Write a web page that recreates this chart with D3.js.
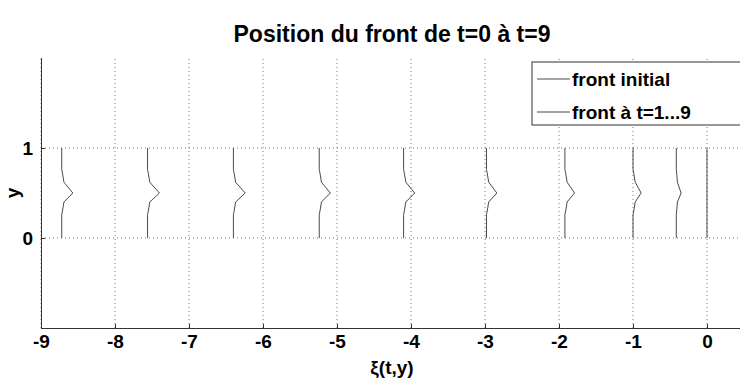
<!DOCTYPE html>
<html><head><meta charset="utf-8">
<script src="https://cdn.jsdelivr.net/npm/d3@7/dist/d3.min.js"></script>
<style>
body{margin:0;background:#fff;}
text{font-family:"Liberation Sans",Arial,Helvetica,sans-serif;font-weight:bold;fill:#000;}
</style></head><body>
<svg id="c" width="740" height="385"></svg>
<script>
// ---- data ----
const title = "Position du front de t=0 à t=9";
const xLabel = "ξ(t,y)";
const yLabel = "y";
const xTicks = [-9,-8,-7,-6,-5,-4,-3,-2,-1,0];
const yTicks = [0,1];
const legendLabels = ["front initial","front à t=1...9"];
// y sample positions along each front
const ySamples = [0,0.26,0.3,0.4,0.5,0.62,0.72,0.76,1];
// initial front (t=0)
const front0 = [0,0,0,0,0,0,0,0,0];
// fronts t=1..9 (xi at each y sample)
const front1 = [-0.415,-0.415,-0.41,-0.40,-0.35,-0.40,-0.41,-0.415,-0.415];
const front2 = [-1.00,-1.00,-0.99,-0.97,-0.89,-0.97,-0.99,-1.00,-1.00];
const front3 = [-1.92,-1.92,-1.91,-1.89,-1.79,-1.89,-1.91,-1.92,-1.92];
const front4 = [-2.98,-2.98,-2.97,-2.95,-2.84,-2.95,-2.97,-2.98,-2.98];
const front5 = [-4.10,-4.10,-4.09,-4.07,-3.95,-4.07,-4.09,-4.10,-4.10];
const front6 = [-5.24,-5.24,-5.23,-5.21,-5.09,-5.21,-5.23,-5.24,-5.24];
const front7 = [-6.40,-6.40,-6.39,-6.37,-6.24,-6.37,-6.39,-6.40,-6.40];
const front8 = [-7.56,-7.56,-7.55,-7.53,-7.40,-7.53,-7.55,-7.56,-7.56];
const front9 = [-8.72,-8.72,-8.71,-8.69,-8.57,-8.69,-8.71,-8.72,-8.72];
const laterFronts = [front1,front2,front3,front4,front5,front6,front7,front8,front9];

// ---- layout ----
const svg = d3.select("#c");
const x = d3.scaleLinear().domain([-9,0.5]).range([41,744]);
const y = d3.scaleLinear().domain([-1,2]).range([328,58]);
const lineColor = "#4a4a4a";

// grid
svg.append("g").selectAll("line").data(xTicks).join("line")
  .attr("x1",d=>x(d)).attr("x2",d=>x(d)).attr("y1",y(-1)).attr("y2",y(2))
  .attr("stroke","#777").attr("stroke-width",1).attr("stroke-dasharray","1,3");
svg.append("g").selectAll("line").data(yTicks).join("line")
  .attr("x1",x(-9)).attr("x2",x(0.5)).attr("y1",d=>y(d)).attr("y2",d=>y(d))
  .attr("stroke","#777").attr("stroke-width",1).attr("stroke-dasharray","1,3");

// axes
const fmt = d => String(d);
const xa = svg.append("g").attr("transform",`translate(0,${y(-1)})`)
  .call(d3.axisBottom(x).tickValues(xTicks).tickSize(-4).tickPadding(7).tickFormat(fmt));
const ya = svg.append("g").attr("transform",`translate(${x(-9)},0)`)
  .call(d3.axisLeft(y).tickValues(yTicks).tickSize(-4).tickPadding(8).tickFormat(fmt));
[xa,ya].forEach(a=>{
  a.select(".domain").attr("stroke","#333").attr("stroke-width",1);
  a.selectAll(".tick line").attr("stroke","#333");
  a.selectAll(".tick text").style("font-size","19px");
});
xa.select(".domain").attr("d",`M${x(-9)},0.5H${x(0.5)}`);
ya.select(".domain").attr("d",`M0.5,${y(-1)}V${y(2)}`);

// fronts
const line = d3.line().x(d=>x(d[0])).y(d=>y(d[1]));
svg.append("path").datum(front0.map((v,i)=>[v,ySamples[i]]))
  .attr("d",line).attr("fill","none").attr("stroke",lineColor).attr("stroke-width",1);
svg.append("g").selectAll("path").data(laterFronts).join("path")
  .attr("d",f=>line(f.map((v,i)=>[v,ySamples[i]])))
  .attr("fill","none").attr("stroke",lineColor).attr("stroke-width",1);

// title & labels
svg.append("text").attr("x",392).attr("y",42).attr("text-anchor","middle")
  .style("font-size","23px").text(title);
svg.append("text").attr("x",392).attr("y",374).attr("text-anchor","middle")
  .style("font-size","19px").text(xLabel);
svg.append("text").attr("transform","translate(19,193) rotate(-90)").attr("text-anchor","middle")
  .style("font-size","19px").text(yLabel);

// legend
const lg = svg.append("g");
lg.append("rect").attr("x",532).attr("y",62).attr("width",220).attr("height",63)
  .attr("fill","#fff").attr("stroke","#333").attr("stroke-width",1);
legendLabels.forEach((t,i)=>{
  const cy = 79 + i*33;
  lg.append("line").attr("x1",537).attr("x2",570).attr("y1",cy).attr("y2",cy)
    .attr("stroke",lineColor).attr("stroke-width",1);
  lg.append("text").attr("x",572).attr("y",cy+7).style("font-size","19px").text(t);
});
</script></body></html>
